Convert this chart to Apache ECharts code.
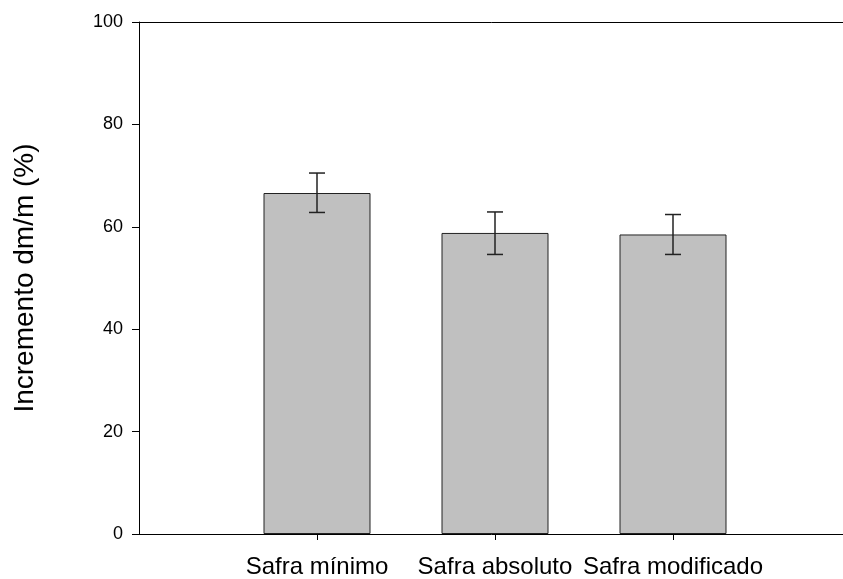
<!DOCTYPE html>
<html>
<head>
<meta charset="utf-8">
<script src="https://cdn.jsdelivr.net/npm/echarts@6/dist/echarts.min.js"></script>
<style>html,body{margin:0;padding:0;background:#fff}#c{width:843px;height:579px}</style>
</head>
<body>
<div id="c"></div>
<script>
const categories = ['Safra mínimo', 'Safra absoluto', 'Safra modificado'];
const means = [66.6, 58.8, 58.5];
const errLow = [62.8, 54.6, 54.6];
const errHigh = [70.5, 62.9, 62.4];
const yTicks = [0, 20, 40, 60, 80, 100];

const xCats = [''].concat(categories).concat(['']);
const barData = [null].concat(means).concat([null]);
const errData = categories.map((c, i) => [i + 1, errLow[i], errHigh[i]]);

const chart = echarts.init(document.getElementById('c'));
chart.setOption({
  animation: false,
  textStyle: { fontFamily: 'Liberation Sans, Arial, sans-serif' },
  grid: { left: 139, top: 22, width: 712, height: 512, outerBoundsMode: 'none', containLabel: false, show: false },
  xAxis: [{
    type: 'category', data: xCats, boundaryGap: false,
    axisLine: { lineStyle: { color: '#000', width: 1 } },
    axisTick: { length: 6, interval: (i) => i > 0 && i < xCats.length - 1, lineStyle: { color: '#000' } },
    axisLabel: { color: '#000', fontSize: 24, margin: 21, interval: 0 },
    splitLine: { show: false }
  }, {
    type: 'category', data: xCats, boundaryGap: false, position: 'top',
    axisLine: { show: true, lineStyle: { color: '#000', width: 1 } },
    axisTick: { show: false }, axisLabel: { show: false }, splitLine: { show: false }
  }],
  yAxis: {
    type: 'value', min: yTicks[0], max: yTicks[yTicks.length - 1], interval: 20,
    name: 'Incremento dm/m (%)', nameLocation: 'middle', nameGap: 100,
    nameTextStyle: { color: '#000', fontSize: 28 },
    axisLine: { show: true, lineStyle: { color: '#000', width: 1 } },
    axisTick: { show: true, length: 7, lineStyle: { color: '#000' } },
    axisLabel: { color: '#000', fontSize: 18, margin: 16 },
    splitLine: { show: false }
  },
  series: [
    {
      type: 'bar', data: barData, barWidth: 107,
      itemStyle: { color: '#c0c0c0', borderColor: '#222', borderWidth: 1 }
    },
    {
      type: 'custom', data: errData, z: 10,
      renderItem: function (params, api) {
        const x = api.value(0);
        const lo = api.coord([x, api.value(1)]);
        const hi = api.coord([x, api.value(2)]);
        const hw = 8;
        const st = { stroke: '#222', lineWidth: 1.5 };
        return {
          type: 'group', children: [
            { type: 'line', shape: { x1: lo[0], y1: lo[1], x2: hi[0], y2: hi[1] }, style: st },
            { type: 'line', shape: { x1: lo[0] - hw, y1: lo[1], x2: lo[0] + hw, y2: lo[1] }, style: st },
            { type: 'line', shape: { x1: hi[0] - hw, y1: hi[1], x2: hi[0] + hw, y2: hi[1] }, style: st }
          ]
        };
      }
    }
  ]
});
</script>
</body>
</html>
